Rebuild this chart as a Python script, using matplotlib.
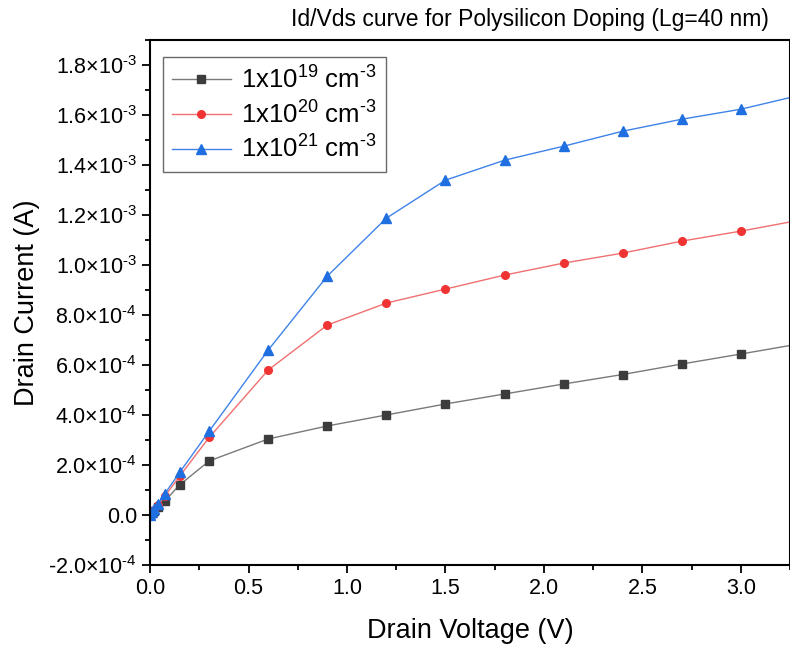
import matplotlib.pyplot as plt
from matplotlib.ticker import FuncFormatter, MultipleLocator

plt.rcParams['font.family'] = ['Liberation Sans', 'DejaVu Sans']
plt.rcParams['mathtext.fontset'] = 'custom'
plt.rcParams['mathtext.rm'] = 'Liberation Sans'
plt.rcParams['mathtext.it'] = 'Liberation Sans'
plt.rcParams['axes.unicode_minus'] = False

vds = [0.0, 0.01, 0.02, 0.04, 0.075, 0.15, 0.3, 0.6, 0.9, 1.2, 1.5, 1.8, 2.1, 2.4, 2.7, 3.0, 3.3]
id_1e19 = [0.0, 7e-6, 1.5e-5, 3.0e-5, 5.6e-5, 1.2e-4, 2.16e-4, 3.04e-4, 3.56e-4, 4.0e-4, 4.44e-4,
           4.84e-4, 5.24e-4, 5.62e-4, 6.04e-4, 6.44e-4, 6.85e-4]
id_1e20 = [0.0, 1.0e-5, 2.0e-5, 3.8e-5, 7.5e-5, 1.55e-4, 3.1e-4, 5.8e-4, 7.6e-4, 8.48e-4, 9.04e-4,
           9.6e-4, 1.008e-3, 1.048e-3, 1.096e-3, 1.136e-3, 1.18e-3]
id_1e21 = [0.0, 1.1e-5, 2.2e-5, 4.3e-5, 8.5e-5, 1.7e-4, 3.35e-4, 6.6e-4, 9.56e-4, 1.188e-3, 1.34e-3,
           1.42e-3, 1.476e-3, 1.536e-3, 1.584e-3, 1.624e-3, 1.68e-3]
labels = [r'1x10$^{19}$ cm$^{\text{-}3}$', r'1x10$^{20}$ cm$^{\text{-}3}$', r'1x10$^{21}$ cm$^{\text{-}3}$']


def sci(v, pos):
    if abs(v) < 1e-12:
        return '0.0'
    exp = int(f'{v:e}'.split('e')[1])
    mant = v / 10 ** exp
    sign = '-' if mant < 0 else ''
    return r'%s%.1f$\times$10$^{\text{-}%d}$' % (sign, abs(mant), -exp)


fig = plt.figure(figsize=(7.9, 6.5), dpi=100)
ax = fig.add_axes([0.19, 0.131, 0.81, 0.807])

ax.plot(vds, id_1e19, color='#7a7a7a', lw=1, marker='s', ms=5.5, mfc='#3c3c3c', mec='#3c3c3c', label=labels[0])
ax.plot(vds, id_1e20, color='#f07070', lw=1, marker='o', ms=5.5, mfc='#f03434', mec='#f03434', label=labels[1])
ax.plot(vds, id_1e21, color='#3f83e8', lw=1, marker='^', ms=6.5, mfc='#1f6fe0', mec='#1f6fe0', label=labels[2])

ax.set_xlim(0, 3.25)
ax.set_ylim(-2e-4, 1.9e-3)
ax.xaxis.set_major_locator(MultipleLocator(0.5))
ax.xaxis.set_minor_locator(MultipleLocator(0.25))
ax.yaxis.set_major_locator(MultipleLocator(2e-4))
ax.yaxis.set_minor_locator(MultipleLocator(1e-4))
ax.yaxis.set_major_formatter(FuncFormatter(sci))
ax.xaxis.set_major_formatter(FuncFormatter(lambda v, p: f'{v:.1f}'))
ax.tick_params(which='major', direction='out', length=6, width=1.3, labelsize=15.5)
ax.tick_params(which='minor', direction='out', length=3.5, width=1.3)
for s in ax.spines.values():
    s.set_linewidth(1.5)

ax.set_xlabel('Drain Voltage (V)', fontsize=19.5, labelpad=14)
ax.set_ylabel('Drain Current (A)', fontsize=19.5, labelpad=6)
fig.text(0.973, 0.952, 'Id/Vds curve for Polysilicon Doping (Lg=40 nm)', ha='right', va='bottom', fontsize=16.5)

leg = ax.legend(loc='upper left', bbox_to_anchor=(0.02, 0.968), borderaxespad=0, fontsize=18.5, frameon=True,
                fancybox=False, edgecolor='#444444', handlelength=2.3, borderpad=0.35, labelspacing=0.3,
                handletextpad=0.4)
leg.get_frame().set_linewidth(1)

fig.savefig('out.png', dpi=100)
